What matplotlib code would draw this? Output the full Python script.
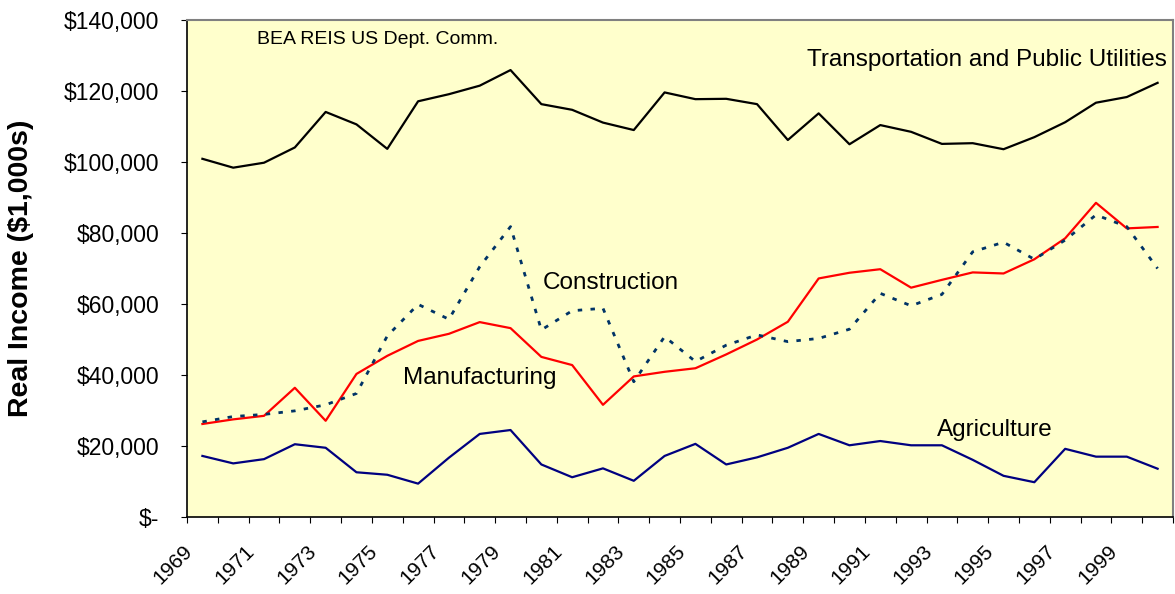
import matplotlib
matplotlib.use("Agg")
import matplotlib.pyplot as plt
import matplotlib.transforms as mtransforms
from matplotlib.ticker import FuncFormatter

plt.rcParams['font.family'] = ['Liberation Sans', 'DejaVu Sans']

years = list(range(1969, 2001))
transport = [100900, 98400, 99800, 104100, 114100, 110600, 103700, 117100, 119100, 121500,
             125900, 116300, 114700, 111100, 109000, 119600, 117700, 117800, 116300, 106200,
             113700, 105000, 110400, 108500, 105100, 105300, 103600, 107000, 111200, 116700,
             118300, 122300]
manufacturing = [26200, 27500, 28500, 36400, 27100, 40300, 45400, 49600, 51600, 54900,
                 53200, 45100, 42800, 31600, 39600, 40900, 41900, 45800, 50000, 55000,
                 67200, 68800, 69800, 64600, 66800, 68900, 68600, 72600, 78500, 88500,
                 81300, 81700]
construction = [26800, 28300, 28900, 29900, 31600, 34800, 51000, 59900, 55700, 70500,
                81800, 52700, 58100, 58800, 38100, 50800, 43800, 48400, 51300, 49400,
                50300, 52900, 63000, 59500, 62700, 74700, 77400, 72600, 78000, 85100,
                81800, 70000]
agriculture = [17200, 15100, 16300, 20500, 19500, 12600, 11900, 9400, 16700, 23400,
               24500, 14800, 11200, 13700, 10200, 17200, 20600, 14800, 16800, 19500,
               23400, 20200, 21400, 20200, 20200, 16100, 11600, 9800, 19200, 17000,
               17000, 13600]
year_labels = [str(y) for y in years[::2]]

fig = plt.figure(figsize=(11.75, 5.94), dpi=100)
ax = fig.add_axes([187/1175, 77/594, 986/1175, 497/594])
ax.set_facecolor('#FFFFCC')

x = list(range(len(years)))
ax.plot(x, transport, color='black', lw=1.6)
ax.plot(x, manufacturing, color='#FF0000', lw=1.6)
ax.plot(x, construction, color='#003366', lw=2.0, linestyle=(0, (1.6, 3.0)))
ax.plot(x, agriculture, color='#000080', lw=1.6)

ax.set_xlim(-0.5, len(years) - 0.5)
ax.set_ylim(0, 140000)
ax.set_yticks(range(0, 140001, 20000))
ax.yaxis.set_major_formatter(FuncFormatter(lambda v, p: '$-' if v == 0 else '${:,.0f}'.format(v)))
ax.tick_params(axis='y', direction='out', length=4, labelsize=16.5, pad=16, color='black')

ax.set_xticks([i - 0.5 for i in range(len(years) + 1)])
ax.set_xticklabels([])
ax.set_xticks(x[::2], minor=True)
ax.set_xticklabels(year_labels, minor=True, rotation=45, ha='right', va='top', fontsize=15)
ax.tick_params(axis='x', which='major', direction='out', length=4, color='black')
ax.tick_params(axis='x', which='minor', length=0, pad=18)
offset = mtransforms.ScaledTranslation(-6/100, 0, fig.dpi_scale_trans)
for lbl in ax.get_xticklabels(minor=True):
    lbl.set_transform(lbl.get_transform() + offset)

for s in ['top', 'right']:
    ax.spines[s].set_color('#808080')
    ax.spines[s].set_linewidth(1.5)
for s in ['left', 'bottom']:
    ax.spines[s].set_color('black')
    ax.spines[s].set_linewidth(1.2)

ax.set_ylabel('Real Income ($1,000s)', fontsize=20.5, fontweight='bold')
ax.yaxis.set_label_coords(-153/986, 0.5)

ax.text(0.071, 0.960, 'BEA REIS US Dept. Comm.', transform=ax.transAxes, fontsize=14, va='center', ha='left')
ax.text(0.629, 0.920, 'Transportation and Public Utilities', transform=ax.transAxes, fontsize=17.5, va='center', ha='left')
ax.text(0.361, 0.471, 'Construction', transform=ax.transAxes, fontsize=17.5, va='center', ha='left')
ax.text(0.219, 0.280, 'Manufacturing', transform=ax.transAxes, fontsize=17.5, va='center', ha='left')
ax.text(0.761, 0.175, 'Agriculture', transform=ax.transAxes, fontsize=17.5, va='center', ha='left')

fig.savefig('out.png', dpi=100)
